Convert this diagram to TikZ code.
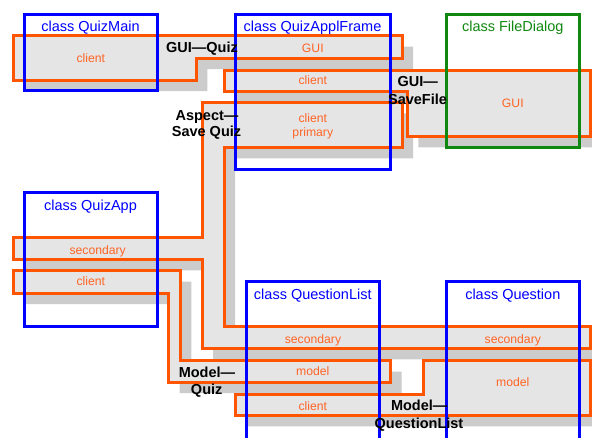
\documentclass[tikz,border=0pt]{standalone}
\usepackage{fontspec}
\setmainfont{Liberation Sans}
\definecolor{qorange}{RGB}{255,85,0}
\definecolor{qtext}{RGB}{255,100,36}
\definecolor{qfill}{RGB}{229,229,229}
\definecolor{qshadow}{RGB}{204,204,204}
\definecolor{qblue}{RGB}{0,0,255}
\definecolor{qgreen}{RGB}{16,136,16}
\begin{document}
\begin{tikzpicture}[x=1pt,y=-1pt,
  classbox/.style={draw=#1, line width=3pt, rectangle, anchor=north west, inner sep=0pt, outer sep=0pt},
  classname/.style={text=#1, font=\fontsize{14.5}{17}\selectfont, anchor=base, inner sep=0pt},
  role/.style={text=qtext, font=\fontsize{12.2}{14}\selectfont, anchor=base, inner sep=0pt},
  aspectlbl/.style={text=black, font=\bfseries\fontsize{14.5}{17}\selectfont, anchor=base, inner sep=0pt},
  band/.style={draw=qorange, line width=3pt, fill=qfill, line join=miter},
  shadowband/.style={fill=qshadow, shift={(11,11)}}]
\useasboundingbox (0,0) rectangle (592,437);
\clip (0,0) rectangle (592,437);
\fill[white] (0,0) rectangle (592,437);

% band outlines
\def\bandA{(13.3,35.5) -- (402,35.5) -- (402,58) -- (196.3,58) -- (196.3,80) -- (13.3,80) -- cycle}
\def\bandB{(224,70.7) -- (590.5,70.7) -- (590.5,136.3) -- (407.3,136.3) -- (407.3,91.3) -- (224,91.3) -- cycle}
\def\bandC{(202,102.3) -- (402,102.3) -- (402,147.3) -- (224,147.3) -- (224,326.3) -- (590.5,326.3) -- (590.5,348.3) -- (202,348.3) -- (202,259.3) -- (13.3,259.3) -- (13.3,237) -- (202,237) -- cycle}
\def\bandD{(13.3,270.7) -- (180.3,270.7) -- (180.3,360.7) -- (390.7,360.7) -- (390.7,382) -- (168.7,382) -- (168.7,293) -- (13.3,293) -- cycle}
\def\bandE{(235.7,394) -- (423.7,394) -- (423.7,360.3) -- (590.5,360.3) -- (590.5,415.3) -- (235.7,415.3) -- cycle}

% shadows
\fill[shadowband] \bandA;
\fill[shadowband] \bandB;
\fill[shadowband] \bandC;
\fill[shadowband] \bandD;
\fill[shadowband] \bandE;

% bands
\path[band] \bandA;
\path[band] \bandC;
\path[band] \bandB;
\path[band] \bandD;
\path[band] \bandE;

% class boxes
\node[classbox=qblue, minimum width=133.3pt, minimum height=76.7pt] (quizmain) at (24,14) {};
\node[classbox=qblue, minimum width=154.6pt, minimum height=155.5pt] (applframe) at (235.7,14) {};
\node[classbox=qgreen, minimum width=133.5pt, minimum height=133pt] (filedialog) at (446.3,14) {};
\node[classbox=qblue, minimum width=133.3pt, minimum height=133.3pt] (quizapp) at (24,192.7) {};
\node[classbox=qblue, minimum width=133pt, minimum height=170pt] (questionlist) at (246.7,281.3) {};
\node[classbox=qblue, minimum width=133.7pt, minimum height=170pt] (question) at (446,281.3) {};

% class names
\node[classname=qblue] (nquizmain) at (90.5,31.3) {class QuizMain};
\node[classname=qblue] (napplframe) at (312.5,31.3) {class QuizApplFrame};
\node[classname=qgreen] (nfiledialog) at (512.8,31.5) {class FileDialog};
\node[classname=qblue] (nquizapp) at (90.5,210.5) {class QuizApp};
\node[classname=qblue] (nquestionlist) at (312.8,299.5) {class QuestionList};
\node[classname=qblue] (nquestion) at (512.8,299.5) {class Question};

% role texts
\node[role] (r1) at (90.8,62.5) {client};
\node[role] (r2) at (312.8,52) {GUI};
\node[role] (r3) at (312.8,84) {client};
\node[role] (r4) at (312.8,122.5) {client};
\node[role] (r5) at (312.8,136.5) {primary};
\node[role] (r6) at (512.8,107) {GUI};
\node[role] (r7) at (97.7,254) {secondary};
\node[role] (r8) at (90.8,285) {client};
\node[role] (r9) at (313,343.3) {secondary};
\node[role] (r10) at (512.8,343.3) {secondary};
\node[role] (r11) at (312.7,375) {model};
\node[role] (r12) at (512.7,386.7) {model};
\node[role] (r13) at (312.8,410) {client};

% aspect labels
\node[aspectlbl] (a1) at (202,52.3) {GUI—Quiz};
\node[aspectlbl] (a2a) at (207,120) {Aspect—};
\node[aspectlbl] (a2b) at (206.5,136.7) {Save Quiz};
\node[aspectlbl] (a3a) at (417.8,86.3) {GUI—};
\node[aspectlbl] (a3b) at (417.5,104) {SaveFile};
\node[aspectlbl] (a4a) at (207,377.3) {Model—};
\node[aspectlbl] (a4b) at (206.7,394.4) {Quiz};
\node[aspectlbl] (a5a) at (419.2,410.7) {Model—};
\node[aspectlbl] (a5b) at (419,428) {QuestionList};
\end{tikzpicture}
\end{document}
